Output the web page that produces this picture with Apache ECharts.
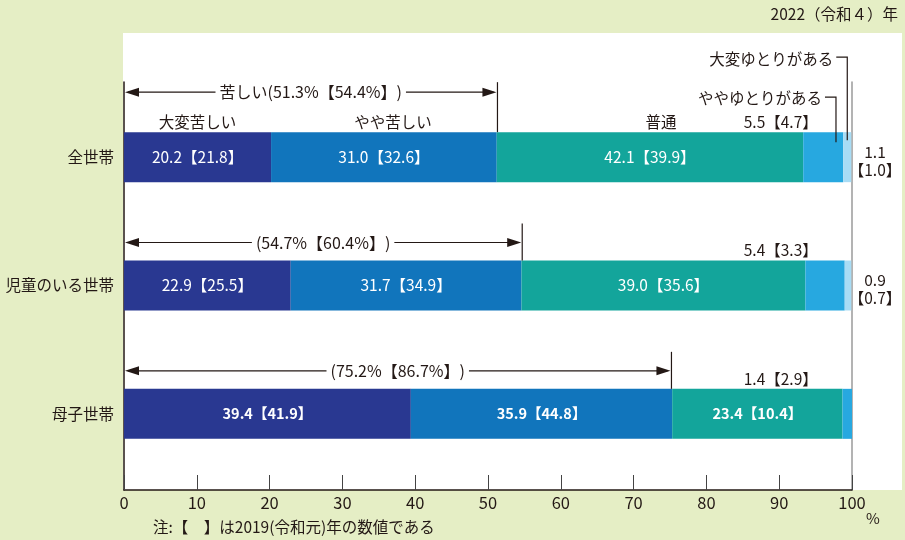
<!DOCTYPE html>
<html><head><meta charset="utf-8">
<script src="https://cdn.jsdelivr.net/npm/echarts@6/dist/echarts.min.js"></script>
<style>html,body{margin:0;padding:0;background:#e5eec5;}#c{width:905px;height:540px;}</style>
</head><body><div id="c"></div>
<script>
// ---- data ----
const categories = ['全世帯', '児童のいる世帯', '母子世帯'];
const seriesNames = ['大変苦しい', 'やや苦しい', '普通', 'ややゆとりがある', '大変ゆとりがある'];
const veryHard2022 = [20.2, 22.9, 39.4];
const somewhatHard2022 = [31.0, 31.7, 35.9];
const normal2022 = [42.1, 39.0, 23.4];
const somewhatComfy2022 = [5.5, 5.4, 1.4];
const veryComfy2022 = [1.1, 0.9, null];
const veryHard2019 = [21.8, 25.5, 41.9];
const somewhatHard2019 = [32.6, 34.9, 44.8];
const normal2019 = [39.9, 35.6, 10.4];
const somewhatComfy2019 = [4.7, 3.3, 2.9];
const veryComfy2019 = [1.0, 0.7, null];
const hardTotal2022 = [51.3, 54.7, 75.2];
const hardTotal2019 = [54.4, 60.4, 86.7];
const xMin = 0, xMax = 100, xInterval = 10;
const titleText = '2022（令和４）年';
const noteText = '注:【　】は2019(令和元)年の数値である';

// ---- chart ----
const FONT = '"Noto Sans CJK JP", "Noto Sans", sans-serif';
const INK = '#231815';
const colors = ['#293891', '#1175bc', '#13a59b', '#27a8e0', '#a8dcf5'];
const vals2022 = [veryHard2022, somewhatHard2022, normal2022, somewhatComfy2022, veryComfy2022];
const vals2019 = [veryHard2019, somewhatHard2019, normal2019, somewhatComfy2019, veryComfy2019];
const fmt = v => Number(v).toFixed(1);

const barSeries = seriesNames.map((name, s) => ({
  name, type: 'bar', stack: 'total', barWidth: 50,
  xAxisIndex: 0, yAxisIndex: 0,
  itemStyle: { color: colors[s] },
  data: vals2022[s].map((v, i) => ({
    value: v,
    label: { fontWeight: i === 2 ? 'bold' : 'normal', fontSize: i === 2 ? 14.5 : 15.5 }
  })),
  label: {
    show: s < 3, position: 'inside', color: '#fff', fontFamily: FONT, fontSize: 15.5,
    formatter: p => fmt(p.value) + '【' + fmt(vals2019[s][p.dataIndex]) + '】'
  },
  emphasis: { disabled: true }, animation: false
}));

function txt(x, y, text, align, extra) {
  return { type: 'text', x, y, style: Object.assign({ text, align: align || 'center', verticalAlign: 'middle', fontSize: 15.5, fontFamily: FONT, fill: INK }, extra || {}) };
}

function renderAnno(params, api) {
  const i = params.dataIndex;
  const base = api.coord([0, i]);
  const cy = base[1], x0 = base[0];
  const xe = api.coord([hardTotal2022[i], i])[0];
  const ay = cy + (i === 0 ? -65 : -43);
  const tTop = i === 0 ? ay - 10 : ay - 19;
  const barTop = cy - 25;
  const ls = { stroke: INK, lineWidth: 1.2, fill: null };
  const ch = [];
  ch.push({ type: 'line', shape: { x1: x0 + 4, y1: ay, x2: xe - 4, y2: ay }, style: ls });
  ch.push({ type: 'polygon', shape: { points: [[x0 + 1, ay], [x0 + 15, ay - 4.5], [x0 + 15, ay + 4.5]] }, style: { fill: INK } });
  ch.push({ type: 'polygon', shape: { points: [[xe - 1, ay], [xe - 15, ay - 4.5], [xe - 15, ay + 4.5]] }, style: { fill: INK } });
  ch.push({ type: 'line', shape: { x1: xe, y1: tTop, x2: xe, y2: barTop }, style: ls });
  const t = (i === 0 ? '苦しい' : '') + '(' + fmt(hardTotal2022[i]) + '%【' + fmt(hardTotal2019[i]) + '%】)';
  ch.push(txt((x0 + xe) / 2, ay, t, 'center', { backgroundColor: '#fff', padding: [0, 4], fontSize: 16 }));
  if (i === 0) {
    let cum = 0;
    const shift = [0, 9, 11];
    for (let s = 0; s < 3; s++) {
      const v = vals2022[s][i];
      const cx = api.coord([cum + v / 2, i])[0] + shift[s];
      ch.push(txt(cx, cy - 35, seriesNames[s]));
      cum += v;
    }
    const cum4 = cum + vals2022[3][i];
    const lx1 = api.coord([cum4 - 1.0, i])[0];
    const lx2 = api.coord([cum4 + vals2022[4][i] / 2, i])[0];
    const y1 = cy - 60, y2 = cy - 100;
    ch.push(txt(lx1 - 14, y1 + 1, seriesNames[3], 'right'));
    ch.push({ type: 'polyline', shape: { points: [[lx1 - 11, y1], [lx1, y1], [lx1, cy - 15]] }, style: ls });
    ch.push(txt(lx2 - 14, y2 + 2, seriesNames[4], 'right'));
    ch.push({ type: 'polyline', shape: { points: [[lx2 - 11, y2], [lx2, y2], [lx2, cy - 17]] }, style: ls });
  }
  const rx = api.coord([95.3, i])[0];
  ch.push(txt(rx, cy - 35, fmt(vals2022[3][i]) + '【' + fmt(vals2019[3][i]) + '】', 'right'));
  if (vals2022[4][i] != null) {
    const ex = api.coord([xMax, i])[0] + 23;
    ch.push(txt(ex, cy + 4, fmt(vals2022[4][i]) + '\n【' + fmt(vals2019[4][i]) + '】', 'center', { lineHeight: 18 }));
  }
  return { type: 'group', children: ch };
}

const option = {
  animation: false,
  textStyle: { fontFamily: FONT },
  graphic: [
    { type: 'rect', z: -100, shape: { x: 123, y: 33, width: 779, height: 457 }, style: { fill: '#fff' } },
    { type: 'text', right: 7, top: 6, style: { text: titleText, fontSize: 15.5, fontFamily: FONT, fill: INK } },
    { type: 'text', left: 866, top: 511, style: { text: '%', fontSize: 15, fontFamily: FONT, fill: INK } },
    { type: 'text', left: 153, top: 519, style: { text: noteText, fontSize: 15.5, fontFamily: FONT, fill: INK } }
  ],
  grid: [
    { left: 124, right: 53, top: 93, height: 385 },
    { left: 124, right: 53, top: 82, bottom: 50 }
  ],
  xAxis: [
    { gridIndex: 0, type: 'value', min: xMin, max: xMax, show: false },
    { gridIndex: 1, type: 'value', min: xMin, max: xMax, interval: xInterval,
      axisLine: { show: true, lineStyle: { color: INK, width: 1.5 } },
      axisTick: { show: true, inside: true, length: 15, lineStyle: { color: '#444', width: 1 } },
      axisLabel: { color: INK, fontSize: 16.5, margin: 4, fontFamily: FONT },
      splitLine: { show: false } }
  ],
  yAxis: [
    { gridIndex: 0, type: 'category', data: categories, inverse: true,
      axisLine: { show: false }, axisTick: { show: false },
      axisLabel: { color: INK, fontSize: 15.5, margin: 10, fontFamily: FONT } },
    { gridIndex: 1, type: 'value', min: 0, max: 1, position: 'left',
      axisLine: { show: true, lineStyle: { color: INK, width: 1.5 } },
      axisTick: { show: false }, axisLabel: { show: false }, splitLine: { show: false } },
    { gridIndex: 1, type: 'value', min: 0, max: 1, position: 'right',
      axisLine: { show: true, lineStyle: { color: '#9a9a9a', width: 1.5 } },
      axisTick: { show: false }, axisLabel: { show: false }, splitLine: { show: false } }
  ],
  series: barSeries.concat([{
    type: 'custom', name: 'annotations', xAxisIndex: 0, yAxisIndex: 0,
    renderItem: renderAnno, silent: true, z: 5,
    encode: { x: 0, y: 1 },
    data: categories.map((c, i) => [0, i])
  }])
};
const chart = echarts.init(document.getElementById('c'));
chart.setOption(option);
</script></body></html>
